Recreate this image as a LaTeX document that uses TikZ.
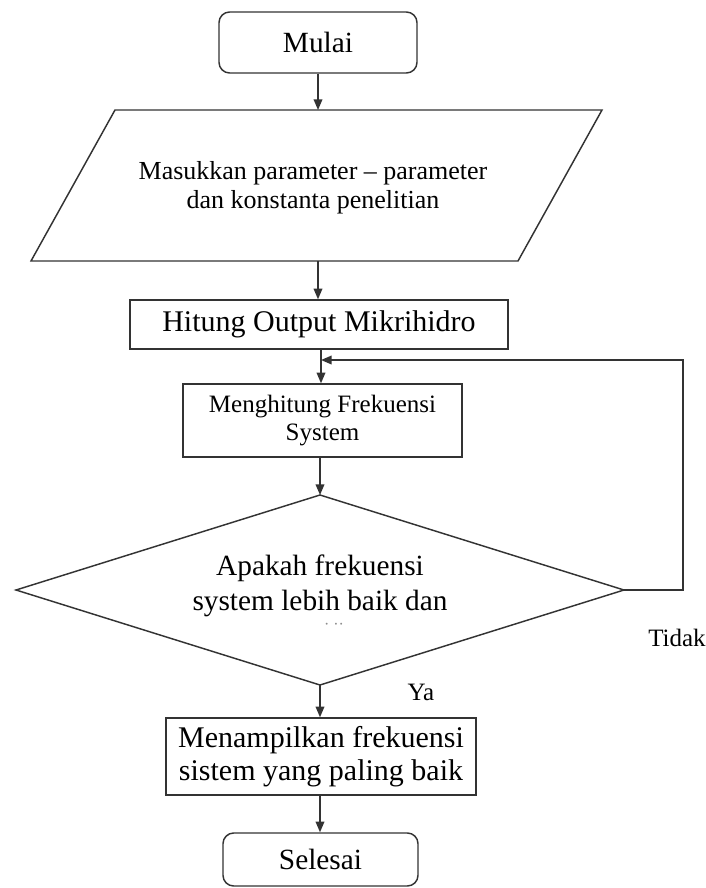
\documentclass[tikz,border=0pt]{standalone}
\usepackage{fontspec}
\setmainfont{Liberation Serif}
\usetikzlibrary{arrows.meta}
\begin{document}
\begin{tikzpicture}[x=0.75pt,y=-0.75pt,
  line/.style={draw=black!80, line width=1.1pt},
  arr/.style={line, -{Triangle[length=8pt,width=6.5pt]}},
  termbox/.style={line, rounded corners=8pt, inner sep=0pt, align=center},
  procbox/.style={line, inner sep=0pt, align=center},
  lbl/.style={inner sep=0pt, align=center}]
\useasboundingbox (0,0) rectangle (706,888);
% terminator: start
\node[termbox, minimum width=148.5pt, minimum height=45.75pt,
  font=\fontsize{22}{26}\selectfont] (start) at (318,42.5) {Mulai};
% input parallelogram
\coordinate (inT) at (318,110);
\coordinate (inB) at (318,261);
\draw[line] (115,110) -- (602,110) -- (518,261) -- (31,261) -- cycle;
\node[lbl, font=\fontsize{19.5}{21.75}\selectfont] (inp) at (313,188)
  {Masukkan parameter – parameter\\dan konstanta penelitian};
% process boxes
\node[procbox, minimum width=283.5pt, minimum height=36.75pt,
  font=\fontsize{22.5}{26}\selectfont] (hit) at (319,324.5) {Hitung Output Mikrihidro};
\node[procbox, minimum width=209.25pt, minimum height=54.75pt,
  font=\fontsize{18.75}{21}\selectfont] (calc) at (322.5,420.5)
  {Menghitung Frekuensi\\System};
% decision diamond
\coordinate (dT) at (320,495);
\coordinate (dR) at (624,590);
\coordinate (dB) at (320,685);
\coordinate (dL) at (16,590);
\draw[line] (dT) -- (dR) -- (dB) -- (dL) -- cycle;
\node[lbl, font=\fontsize{22}{26.25}\selectfont] (dtext) at (320,586)
  {Apakah frekuensi\\system lebih baik dan};
\node[lbl, font=\fontsize{12}{12}\selectfont, text=black!45] (ddots) at (334,626) {· ··};
% output box
\node[procbox, minimum width=232.5pt, minimum height=57.75pt,
  font=\fontsize{22.5}{24.75}\selectfont] (show) at (321,756.5)
  {Menampilkan frekuensi\\sistem yang paling baik};
% terminator: end
\node[termbox, minimum width=146.25pt, minimum height=39.75pt,
  font=\fontsize{22}{26}\selectfont] (stop) at (320.5,859.5) {Selesai};
% labels
\node[lbl, font=\fontsize{18.75}{22}\selectfont] (ya) at (421,692) {Ya};
\node[lbl, font=\fontsize{18.75}{22}\selectfont] (tidak) at (677,638) {Tidak};
% loop coordinates
\coordinate (c1) at (683,590);
\coordinate (c2) at (683,360);
\coordinate (loopIn) at (321,360);
% connectors
\draw[arr] (start.south) -- (inT);
\draw[arr] (inB) -- (hit.north -| inB);
\draw[arr] (hit.south -| loopIn) -- (calc.north -| loopIn);
\draw[arr] (calc.south -| dT) -- (dT);
\draw[arr] (dR) -- (c1) -- (c2) -- (loopIn);
\draw[arr] (dB) -- (show.north -| dB);
\draw[arr] (show.south -| dB) -- (stop.north -| dB);
\end{tikzpicture}
\end{document}
